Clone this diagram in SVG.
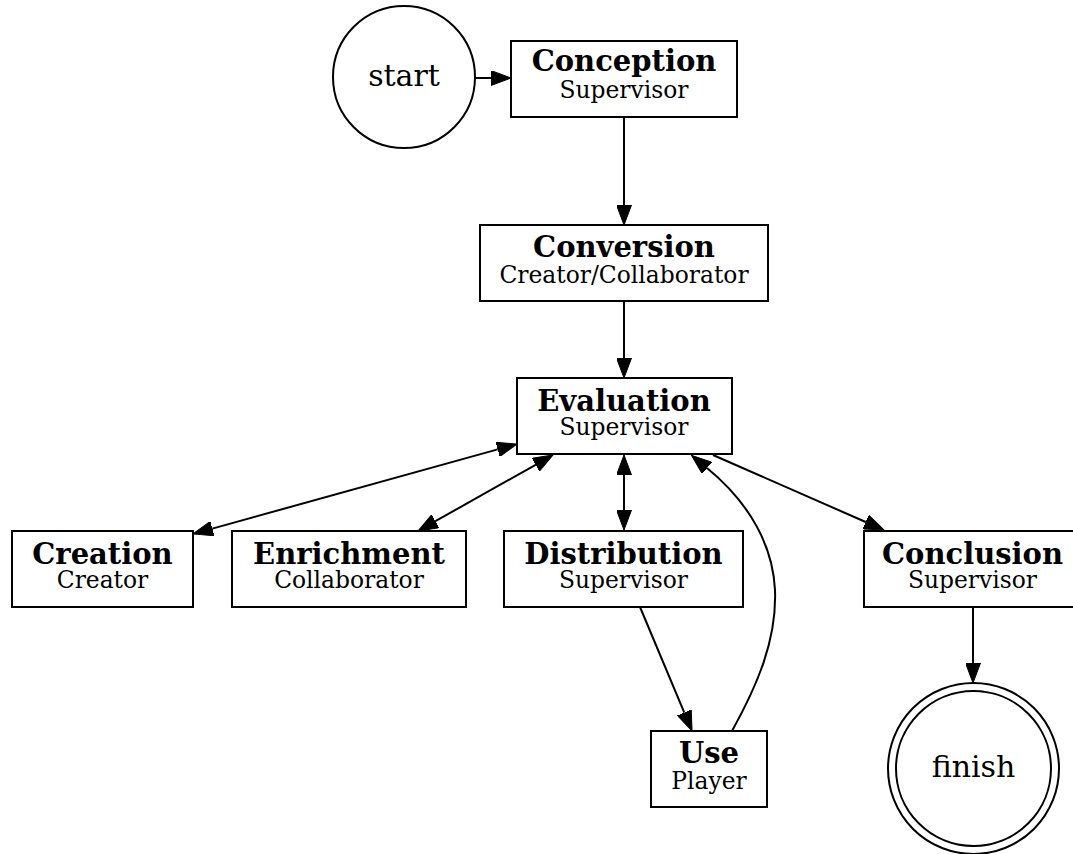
<svg xmlns="http://www.w3.org/2000/svg" width="1073" height="854" viewBox="0 0 1073 854">
  <style>
    .box { fill: #fff; stroke: #000; stroke-width: 2; }
    .ring { fill: none; stroke: #000; stroke-width: 2; }
    .edge { fill: none; stroke: #000; stroke-width: 2; }
    text { font-family: "DejaVu Serif", serif; fill: #000; text-anchor: middle; }
    .title { font-weight: bold; font-size: 29px; }
    .sub { font-size: 23.4px; }
    .big { font-size: 30px; }
  </style>
  <defs>
    <marker id="arrow" viewBox="0 0 21 15" refX="0" refY="7.5" markerWidth="21" markerHeight="15" markerUnits="userSpaceOnUse" orient="auto-start-reverse">
      <path d="M0,0 L20,7.5 L0,15 z" fill="#000" stroke="#000" stroke-width="1"/>
    </marker>
  </defs>
  <rect width="1073" height="854" fill="#fff"/>

  <g id="connectors">
    <path class="edge" d="M474,78 L491,78" marker-end="url(#arrow)"/>
    <path class="edge" d="M624,117 L624,205" marker-end="url(#arrow)"/>
    <path class="edge" d="M624,301 L624,358" marker-end="url(#arrow)"/>
    <path class="edge" d="M497.7,449.4 L212.3,528.6" marker-start="url(#arrow)" marker-end="url(#arrow)"/>
    <path class="edge" d="M535.6,464.8 L435.4,521.2" marker-start="url(#arrow)" marker-end="url(#arrow)"/>
    <path class="edge" d="M624,475 L624,510" marker-start="url(#arrow)" marker-end="url(#arrow)"/>
    <path class="edge" d="M713,455 L865.7,522" marker-end="url(#arrow)"/>
    <path class="edge" d="M640,607 L684.3,712.6" marker-end="url(#arrow)"/>
    <path class="edge" d="M732,731 C757,686 777,640 775,590 C773,548 752,505 707,468" marker-end="url(#arrow)"/>
    <path class="edge" d="M973,607 L973,663" marker-end="url(#arrow)"/>
  </g>

  <g id="start">
    <circle class="ring" cx="404" cy="77" r="71"/>
    <text class="big" x="404" y="86">start</text>
  </g>
  <g id="conception">
    <rect class="box" x="511" y="41" width="226" height="76"/>
    <text class="title" x="624" y="71">Conception</text>
    <text class="sub" x="624" y="98">Supervisor</text>
  </g>
  <g id="conversion">
    <rect class="box" x="480" y="225" width="288" height="76"/>
    <text class="title" x="624" y="257">Conversion</text>
    <text class="sub" x="624" y="283">Creator/Collaborator</text>
  </g>
  <g id="evaluation">
    <rect class="box" x="517" y="378" width="215" height="76"/>
    <text class="title" x="624" y="411">Evaluation</text>
    <text class="sub" x="624" y="435">Supervisor</text>
  </g>
  <g id="creation">
    <rect class="box" x="12" y="531" width="181" height="76"/>
    <text class="title" x="102.5" y="564">Creation</text>
    <text class="sub" x="102.5" y="588">Creator</text>
  </g>
  <g id="enrichment">
    <rect class="box" x="232" y="531" width="234" height="76"/>
    <text class="title" x="349" y="564">Enrichment</text>
    <text class="sub" x="349" y="588">Collaborator</text>
  </g>
  <g id="distribution">
    <rect class="box" x="504" y="531" width="239" height="76"/>
    <text class="title" x="623.5" y="564">Distribution</text>
    <text class="sub" x="623.5" y="588">Supervisor</text>
  </g>
  <g id="conclusion">
    <rect class="box" x="864" y="531" width="217" height="76"/>
    <text class="title" x="972.5" y="564">Conclusion</text>
    <text class="sub" x="972.5" y="588">Supervisor</text>
  </g>
  <g id="use">
    <rect class="box" x="651" y="731" width="116" height="76"/>
    <text class="title" x="709" y="763">Use</text>
    <text class="sub" x="709" y="789">Player</text>
  </g>
  <g id="finish">
    <circle class="ring" cx="973.5" cy="768.5" r="85.5"/>
    <circle class="ring" cx="973.5" cy="768.5" r="77.5"/>
    <text class="big" x="973.5" y="777">finish</text>
  </g>
</svg>
